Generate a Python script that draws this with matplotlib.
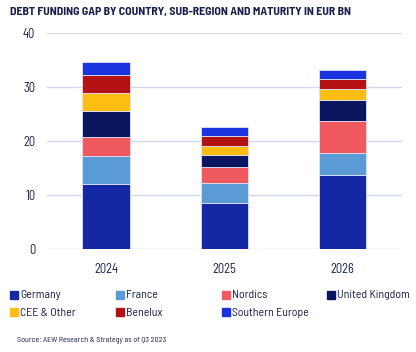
import matplotlib.pyplot as plt
import numpy as np
from matplotlib.patches import Rectangle

years = ['2024', '2025', '2026']
regions = ['Germany', 'France', 'Nordics', 'United Kingdom',
           'CEE & Other', 'Benelux', 'Southern Europe']
germany = [12.1, 8.6, 13.7]
france = [5.05, 3.6, 4.1]
nordics = [3.6, 3.0, 6.0]
uk = [4.75, 2.2, 3.75]
cee = [3.4, 1.75, 2.1]
benelux = [3.4, 1.8, 1.85]
southern = [2.3, 1.7, 1.7]
series = [germany, france, nordics, uk, cee, benelux, southern]
colors = ['#1428a5', '#5b9bd5', '#f05a5e', '#0c1560',
          '#fdbd12', '#b41212', '#1a34e0']
yticks = [0, 10, 20, 30, 40]

text_c = '#1a1f4a'
plt.rcParams['font.family'] = ['Barlow Semi Condensed', 'DejaVu Sans']

fig = plt.figure(figsize=(4.16, 3.52), dpi=100)
ax = fig.add_axes([0.113, 0.2926, 0.853, 0.6134])

x = np.arange(len(years))
bottom = np.zeros(len(years))
for vals, col, name in zip(series, colors, regions):
    ax.bar(x, vals, 0.4, bottom=bottom, color=col, edgecolor='#dfe3f5',
           linewidth=0.6, label=name, zorder=3)
    bottom += np.array(vals)

ax.set_xlim(-0.5, 2.5)
ax.set_ylim(0, 40)
ax.set_yticks(yticks)
ax.set_yticklabels([str(t) for t in yticks])
ax.set_xticks(x)
ax.set_xticklabels(years)
ax.yaxis.grid(True, color='#d3d8ec', linewidth=1.0, zorder=0)
for s in ax.spines.values():
    s.set_visible(False)
ax.tick_params(axis='both', length=0, colors=text_c, labelsize=9)
ax.tick_params(axis='y', pad=8.5)
ax.tick_params(axis='x', pad=10)

fig.text(10 / 416, 1 - 12 / 352,
         'DEBT FUNDING GAP BY COUNTRY, SUB-REGION AND MATURITY IN EUR BN',
         fontsize=8.5, fontweight='bold', color=text_c, va='center', ha='left')

# legend laid out in a fixed grid
col_x = [10, 116, 222, 327]
row_y = [295, 312]
for i, (name, col) in enumerate(zip(regions, colors)):
    r, c = divmod(i, 4)
    px, py = col_x[c], row_y[r]
    fig.add_artist(Rectangle((px / 416, 1 - (py + 4) / 352), 8 / 416, 8 / 352,
                             transform=fig.transFigure, color=col))
    fig.text((px + 10) / 416, 1 - (py + 0.5) / 352, name, fontsize=8.5,
             color=text_c, va='center', ha='left')

fig.text(17 / 416, 1 - 341 / 352, 'Source: AEW Research & Strategy as of Q3 2023',
         fontsize=5.8, color=text_c, va='center', ha='left')

fig.savefig('out.png', dpi=100)
